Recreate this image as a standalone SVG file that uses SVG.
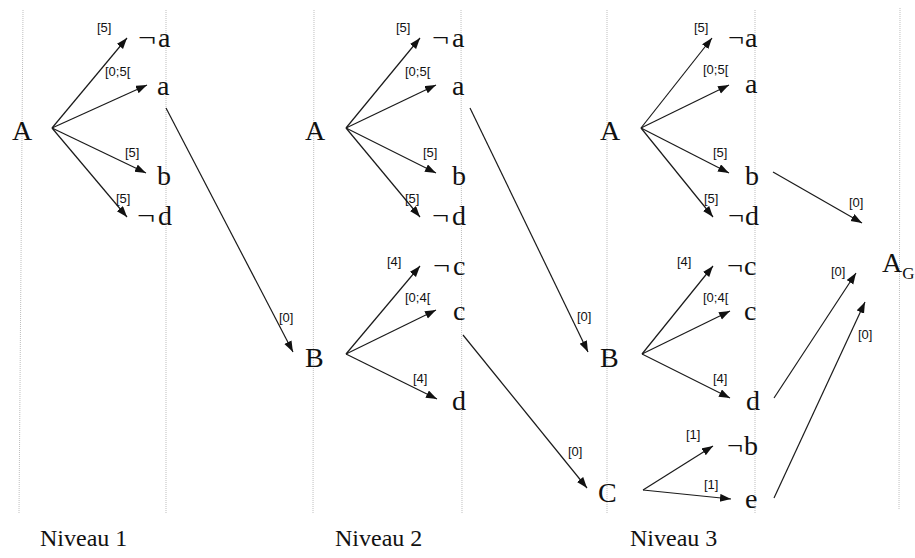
<svg xmlns="http://www.w3.org/2000/svg" width="915" height="558" viewBox="0 0 915 558">
<style>
.bg{fill:#fff}
.grid{stroke:#bdbdbd;stroke-width:1;stroke-dasharray:1 1;fill:none}
.edge{stroke:#1a1a1a;stroke-width:1.2;fill:none;marker-end:url(#ah)}
.n{font-family:"Liberation Serif",serif;font-size:28px;fill:#111}
.sub{font-family:"Liberation Serif",serif;font-size:17px;fill:#111}
.lbl{font-family:"Liberation Sans",sans-serif;font-size:13px;fill:#111}
.lvl{font-family:"Liberation Serif",serif;font-size:24px;fill:#111}
</style>
<defs>
<marker id="ah" markerUnits="userSpaceOnUse" markerWidth="12" markerHeight="10" refX="11" refY="4" orient="auto">
<path d="M0,0 L11,4 L0,8 Z" fill="#111"/>
</marker>
</defs>
<rect class="bg" x="0" y="0" width="915" height="558"/>
<g id="grid">
<line class="grid" x1="23" y1="10" x2="19" y2="513"/>
<line class="grid" x1="166" y1="10" x2="166" y2="513"/>
<line class="grid" x1="314" y1="10" x2="313" y2="513"/>
<line class="grid" x1="461" y1="10" x2="462" y2="513"/>
<line class="grid" x1="607" y1="10" x2="607" y2="513"/>
<line class="grid" x1="755" y1="10" x2="755" y2="513"/>
<line class="grid" x1="900" y1="8" x2="899" y2="510"/>
</g>
<g id="connectors">
<line class="edge" x1="52" y1="128" x2="127" y2="38"/>
<line class="edge" x1="52" y1="128" x2="147" y2="85"/>
<line class="edge" x1="52" y1="128" x2="146" y2="173"/>
<line class="edge" x1="52" y1="128" x2="127" y2="217"/>
<line class="edge" x1="166" y1="108" x2="293" y2="352"/>
<line class="edge" x1="346" y1="128" x2="420" y2="38"/>
<line class="edge" x1="346" y1="128" x2="436" y2="85"/>
<line class="edge" x1="346" y1="128" x2="436" y2="173"/>
<line class="edge" x1="346" y1="128" x2="420" y2="217"/>
<line class="edge" x1="470" y1="108" x2="588" y2="352"/>
<line class="edge" x1="346" y1="354" x2="420" y2="266"/>
<line class="edge" x1="346" y1="354" x2="436" y2="310"/>
<line class="edge" x1="346" y1="354" x2="437" y2="399"/>
<line class="edge" x1="463" y1="335" x2="587" y2="488"/>
<line class="edge" x1="641" y1="128" x2="712" y2="38"/>
<line class="edge" x1="641" y1="128" x2="729" y2="85"/>
<line class="edge" x1="641" y1="128" x2="729" y2="173"/>
<line class="edge" x1="641" y1="128" x2="713" y2="217"/>
<line class="edge" x1="773" y1="172" x2="862" y2="223"/>
<line class="edge" x1="642" y1="354" x2="713" y2="266"/>
<line class="edge" x1="642" y1="354" x2="730" y2="311"/>
<line class="edge" x1="642" y1="354" x2="730" y2="398"/>
<line class="edge" x1="643" y1="490" x2="713" y2="446"/>
<line class="edge" x1="643" y1="490" x2="731" y2="499"/>
<line class="edge" x1="774" y1="398" x2="856" y2="273"/>
<line class="edge" x1="774" y1="498" x2="865" y2="302"/>
<text class="lbl" x="97" y="32">[5]</text>
<text class="lbl" x="105" y="76">[0;5[</text>
<text class="lbl" x="125" y="157">[5]</text>
<text class="lbl" x="116" y="203">[5]</text>
<text class="lbl" x="279" y="322">[0]</text>
<text class="lbl" x="396" y="32">[5]</text>
<text class="lbl" x="405" y="76">[0;5[</text>
<text class="lbl" x="423" y="157">[5]</text>
<text class="lbl" x="405" y="203">[5]</text>
<text class="lbl" x="577" y="321">[0]</text>
<text class="lbl" x="387" y="266">[4]</text>
<text class="lbl" x="405" y="302">[0;4[</text>
<text class="lbl" x="413" y="383">[4]</text>
<text class="lbl" x="568" y="456">[0]</text>
<text class="lbl" x="694" y="32">[5]</text>
<text class="lbl" x="703" y="74">[0;5[</text>
<text class="lbl" x="713" y="157">[5]</text>
<text class="lbl" x="704" y="203">[5]</text>
<text class="lbl" x="849" y="207">[0]</text>
<text class="lbl" x="677" y="266">[4]</text>
<text class="lbl" x="703" y="302">[0;4[</text>
<text class="lbl" x="713" y="383">[4]</text>
<text class="lbl" x="686" y="439">[1]</text>
<text class="lbl" x="704" y="489">[1]</text>
<text class="lbl" x="831" y="276">[0]</text>
<text class="lbl" x="858" y="339">[0]</text>
</g>
<g id="n1-A"><text class="n" x="12" y="140">A</text></g>
<g id="n1-na"><text class="n" x="138" y="47" textLength="18" lengthAdjust="spacingAndGlyphs">¬</text><text class="n" x="158" y="47">a</text></g>
<g id="n1-a"><text class="n" x="157" y="95">a</text></g>
<g id="n1-b"><text class="n" x="157" y="185">b</text></g>
<g id="n1-nd"><text class="n" x="137" y="225" textLength="18" lengthAdjust="spacingAndGlyphs">¬</text><text class="n" x="158" y="225">d</text></g>
<g id="n2-A"><text class="n" x="305" y="140">A</text></g>
<g id="n2-na"><text class="n" x="432" y="47" textLength="17" lengthAdjust="spacingAndGlyphs">¬</text><text class="n" x="452" y="47">a</text></g>
<g id="n2-a"><text class="n" x="452" y="95">a</text></g>
<g id="n2-b"><text class="n" x="452" y="185">b</text></g>
<g id="n2-nd"><text class="n" x="432" y="225" textLength="17" lengthAdjust="spacingAndGlyphs">¬</text><text class="n" x="452" y="225">d</text></g>
<g id="n2-B"><text class="n" x="305" y="367">B</text></g>
<g id="n2-nc"><text class="n" x="433" y="275" textLength="17" lengthAdjust="spacingAndGlyphs">¬</text><text class="n" x="453" y="275">c</text></g>
<g id="n2-c"><text class="n" x="453" y="320">c</text></g>
<g id="n2-d"><text class="n" x="452" y="410">d</text></g>
<g id="n3-A"><text class="n" x="600" y="140">A</text></g>
<g id="n3-na"><text class="n" x="728" y="47" textLength="16" lengthAdjust="spacingAndGlyphs">¬</text><text class="n" x="745" y="47">a</text></g>
<g id="n3-a"><text class="n" x="745" y="93">a</text></g>
<g id="n3-b"><text class="n" x="745" y="185">b</text></g>
<g id="n3-nd"><text class="n" x="728" y="225" textLength="16" lengthAdjust="spacingAndGlyphs">¬</text><text class="n" x="745" y="225">d</text></g>
<g id="n3-B"><text class="n" x="600" y="367">B</text></g>
<g id="n3-nc"><text class="n" x="727" y="275" textLength="16" lengthAdjust="spacingAndGlyphs">¬</text><text class="n" x="744" y="275">c</text></g>
<g id="n3-c"><text class="n" x="744" y="320">c</text></g>
<g id="n3-d"><text class="n" x="746" y="410">d</text></g>
<g id="n3-C"><text class="n" x="598" y="502">C</text></g>
<g id="n3-nb"><text class="n" x="727" y="455" textLength="16" lengthAdjust="spacingAndGlyphs">¬</text><text class="n" x="744" y="455">b</text></g>
<g id="n3-e"><text class="n" x="745" y="508">e</text></g>
<g id="n-AG"><text class="n" x="882" y="272">A<tspan class="sub" dy="7">G</tspan></text></g>
<g id="levels">
<text class="lvl" x="40" y="546">Niveau 1</text>
<text class="lvl" x="335" y="546">Niveau 2</text>
<text class="lvl" x="630" y="546">Niveau 3</text>
</g>
</svg>
